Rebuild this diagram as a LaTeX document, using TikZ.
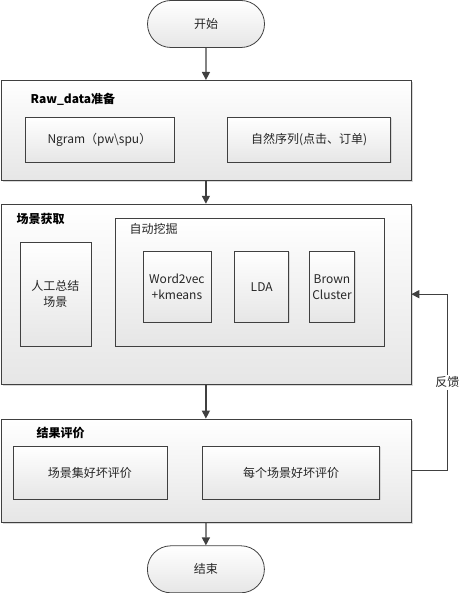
\documentclass[tikz,border=0pt]{standalone}
\usepackage{fontspec}
\setmainfont{Noto Sans CJK SC}
\usetikzlibrary{shapes.misc,arrows.meta,positioning,shadows}
\definecolor{linecol}{HTML}{404040}
\definecolor{boxgray}{HTML}{E6E6E6}
\definecolor{txtcol}{HTML}{262626}
\tikzset{
  basic box/.style = {
    shape = rectangle,
    draw = linecol,
    line width = .8pt,
    top color = white,
    bottom color = boxgray,
    text = txtcol,
    align = center,
    font = \fontsize{12}{16}\selectfont,
    inner sep = 0pt,
    },
  outer box/.style = {
    basic box,
    anchor = north west,
    minimum width = 410pt,
    drop shadow = {shadow xshift=2pt, shadow yshift=-2pt, fill=black!30, draw=none},
    },
  inner box/.style = {
    basic box,
    anchor = north west,
    drop shadow = {shadow xshift=1pt, shadow yshift=-1pt, fill=black!25, draw=none},
    },
  terminal/.style = {
    basic box,
    shape = rounded rectangle,
    minimum width = 117pt,
    minimum height = 47pt,
    },
  title/.style = {
    anchor = west,
    inner sep = 0pt,
    font = \fontsize{12}{14}\selectfont\bfseries,
    },
  subtitle/.style = {
    anchor = west,
    inner sep = 0pt,
    text = txtcol,
    font = \fontsize{12}{14}\selectfont,
    },
  flow/.style = {-{Triangle[length=8pt,width=8pt]}, linecol, line width=1.3pt},
}

\begin{document}
\begin{tikzpicture}[x=1pt,y=1pt]
    \useasboundingbox (0,0) rectangle (460,-593);

    % start / raw data
    \node [terminal] (start) at (206,-24) {开始};

    \node [outer box, minimum height=100pt] (raw) at (0.5,-80) {};
    \node [title] (rawt) at ([xshift=30pt,yshift=-19pt]raw.north west) {Raw\_data准备};
    \node [inner box, minimum width=149pt, minimum height=45pt,
           below right=37pt and 24pt of raw.north west] (ngram) {Ngram（pw\textbackslash spu）};
    \node [inner box, minimum width=163pt, minimum height=45pt,
           right=53pt of ngram] (seq) {自然序列(点击、订单)};

    % scene mining
    \node [outer box, minimum height=180pt, below=23pt of raw] (scene) {};
    \node [title] (scenet) at ([xshift=16pt,yshift=-15pt]scene.north west) {场景获取};
    \node [inner box, minimum width=71pt, minimum height=104pt,
           below right=38pt and 19pt of scene.north west] (manual) {人工总结\\场景};
    \node [inner box, minimum width=269pt, minimum height=128pt,
           below right=14pt and 114pt of scene.north west] (auto) {};
    \node [subtitle] (autot) at ([xshift=15pt,yshift=-11pt]auto.north west) {自动挖掘};
    \node [inner box, minimum width=68pt, minimum height=71pt,
           below right=33pt and 28pt of auto.north west] (w2v) {Word2vec\\+kmeans};
    \node [inner box, minimum width=54pt, minimum height=71pt,
           right=23pt of w2v] (lda) {LDA};
    \node [inner box, minimum width=45pt, minimum height=71pt,
           right=20pt of lda] (brown) {Brown\\Cluster};

    % evaluation / end
    \node [outer box, minimum height=103pt, below=34pt of scene] (eval) {};
    \node [title] (evalt) at ([xshift=36pt,yshift=-14pt]eval.north west) {结果评价};
    \node [inner box, minimum width=154pt, minimum height=53pt,
           below right=27pt and 12pt of eval.north west] (seteval) {场景集好坏评价};
    \node [inner box, minimum width=177pt, minimum height=53pt,
           right=35pt of seteval] (oneeval) {每个场景好坏评价};

    \node [terminal, below=23pt of eval] (stop) {结束};

    % Paths
    \draw[flow] (start) -- (raw);
    \draw[flow] (raw) -- (scene);
    \draw[flow] (scene) -- (eval);
    \draw[flow] (eval) -- (stop);

    \coordinate (fbk) at ([xshift=36pt]eval.east);
    \draw[flow] (eval.east) -- (fbk) |- node[pos=.25, fill=white, inner sep=2pt,
        text=txtcol, font=\fontsize{12}{14}\selectfont] {反馈} (scene.east);
\end{tikzpicture}
\end{document}
